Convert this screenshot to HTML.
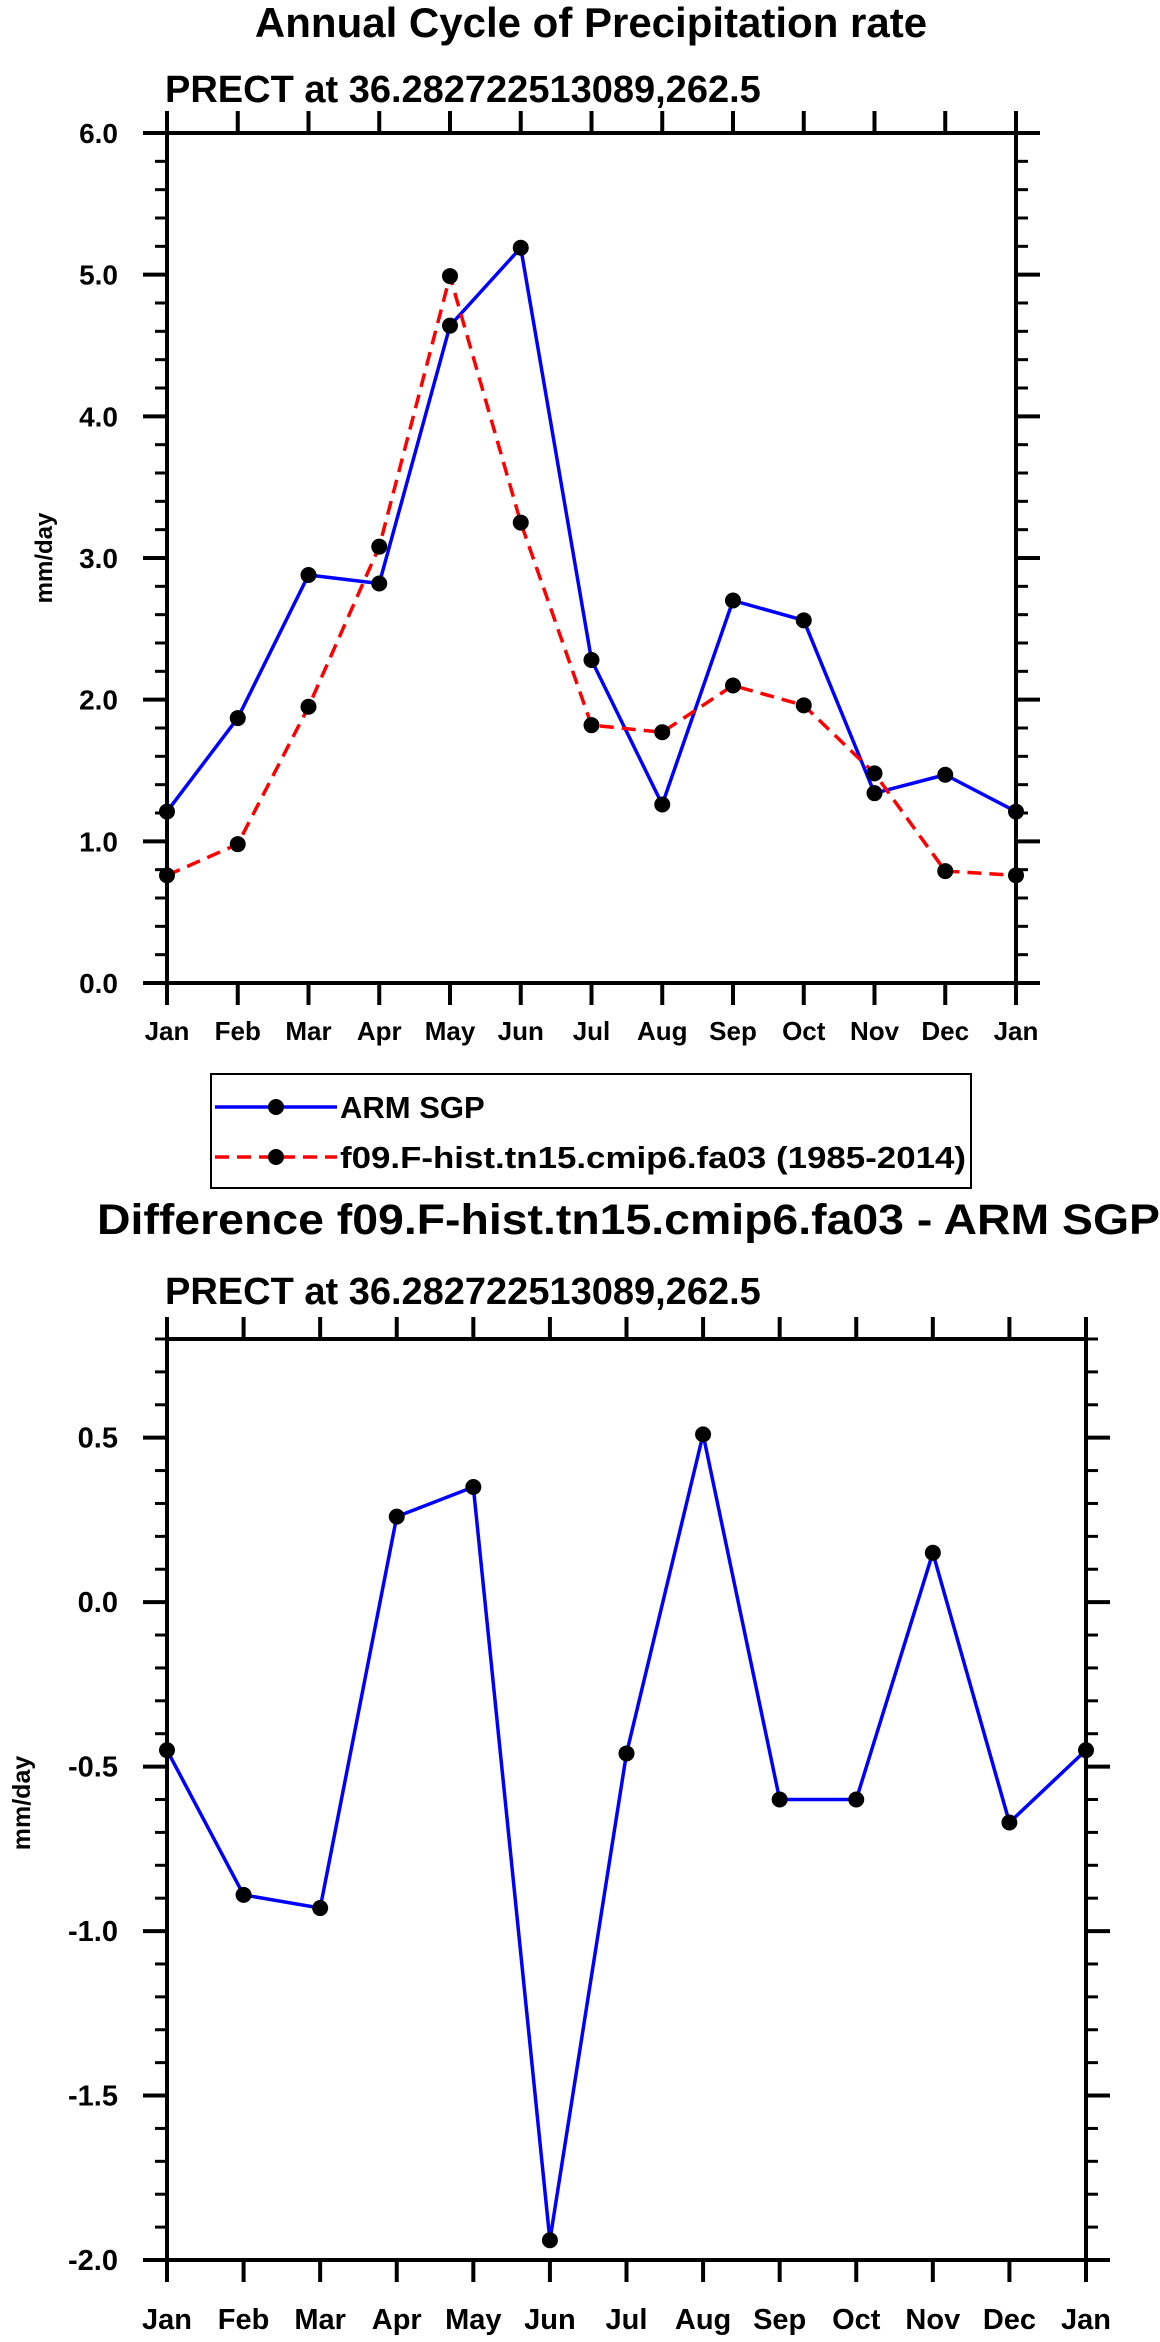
<!DOCTYPE html>
<html><head><meta charset="utf-8"><style>
html,body{margin:0;padding:0;background:#fff;}
svg{display:block;font-family:"Liberation Sans",Arial,sans-serif;font-weight:bold;}
</style></head><body>
<svg id="fig" width="1160" height="2342" viewBox="0 0 1160 2342" xmlns="http://www.w3.org/2000/svg">
<text x="591" y="37" font-size="42" text-anchor="middle">Annual Cycle of Precipitation rate</text>
<text x="165" y="102" font-size="38">PRECT at 36.282722513089,262.5</text>
<text transform="translate(52,558) rotate(-90)" font-size="24" text-anchor="middle">mm/day</text>
<g id="top"></g>
<g id="legend">
  <rect x="211" y="1074" width="760" height="114" fill="none" stroke="#000" stroke-width="2"/>
  <g>
    <line x1="215" y1="1107" x2="337" y2="1107" stroke="#0000ff" stroke-width="3.5"/>
    <circle cx="276" cy="1107" r="8" fill="#000"/>
    <text x="340" y="1118" font-size="31">ARM SGP</text>
  </g>
  <g>
    <line x1="215" y1="1157" x2="337" y2="1157" stroke="#ff0000" stroke-width="3.5" stroke-dasharray="14,8"/>
    <circle cx="276" cy="1157" r="8" fill="#000"/>
    <text x="340" y="1168" font-size="31" textLength="626" lengthAdjust="spacingAndGlyphs">f09.F-hist.tn15.cmip6.fa03 (1985-2014)</text>
  </g>
</g>
<text x="97" y="1234" font-size="43" textLength="1063" lengthAdjust="spacingAndGlyphs">Difference f09.F-hist.tn15.cmip6.fa03 - ARM SGP</text>
<text x="165" y="1304" font-size="38">PRECT at 36.282722513089,262.5</text>
<text transform="translate(30,1803) rotate(-90)" font-size="25" text-anchor="middle">mm/day</text>
<g id="bot"></g>
</svg>
<script>
const months = ["Jan","Feb","Mar","Apr","May","Jun","Jul","Aug","Sep","Oct","Nov","Dec","Jan"];
const armValues = [1.21,1.87,2.88,2.82,4.64,5.19,2.28,1.26,2.70,2.56,1.34,1.47,1.21];
const modelValues = [0.76,0.98,1.95,3.08,4.99,3.25,1.82,1.77,2.10,1.96,1.48,0.79,0.76];
const diffValues = [-0.45,-0.89,-0.93,0.26,0.35,-1.94,-0.46,0.51,-0.60,-0.60,0.15,-0.67,-0.45];
const topYTicks = ["0.0","1.0","2.0","3.0","4.0","5.0","6.0"];
const botYTicks = ["-2.0","-1.5","-1.0","-0.5","0.0","0.5"];

const NS="http://www.w3.org/2000/svg";
function mk(parent,tag,attrs){const e=document.createElementNS(NS,tag);for(const k in attrs)e.setAttribute(k,attrs[k]);parent.appendChild(e);return e;}

function drawChart(g,cfg){
  const xs=i=>cfg.x0+(cfg.x1-cfg.x0)*i/(months.length-1);
  const ys=v=>cfg.y1-(v-cfg.vmin)/(cfg.vmax-cfg.vmin)*(cfg.y1-cfg.y0);
  // minor y ticks
  for(let v=cfg.vmin;v<=cfg.vmax+1e-9;v+=cfg.minor){
    const y=ys(v);
    const l1=mk(g,"line",{x1:cfg.x0-12,y1:y,x2:cfg.x0,y2:y,stroke:"#000","stroke-width":3});
    
    
    const l2=mk(g,"line",{x1:cfg.x1,y1:y,x2:cfg.x1+12,y2:y,stroke:"#000","stroke-width":3});
    
    
  }
  cfg.ticks.forEach(t=>{
    const y=ys(parseFloat(t));
    const a=mk(g,"line",{x1:cfg.x0-24,y1:y,x2:cfg.x0,y2:y,stroke:"#000","stroke-width":4});
    
    
    const b=mk(g,"line",{x1:cfg.x1,y1:y,x2:cfg.x1+24,y2:y,stroke:"#000","stroke-width":4});
    
    
    const tx=mk(g,"text",{x:118,y:y+10,"font-size":cfg.tfs,"text-anchor":"end"});
    tx.textContent=t;
    
    
  });
  months.forEach((m,i)=>{
    const x=xs(i);
    const a=mk(g,"line",{x1:x,y1:cfg.y1,x2:x,y2:cfg.y1+22,stroke:"#000","stroke-width":4});
    
    
    const b=mk(g,"line",{x1:x,y1:cfg.y0-22,x2:x,y2:cfg.y0,stroke:"#000","stroke-width":4});
    
    
    const tx=mk(g,"text",{x:x,y:cfg.xly,"font-size":cfg.xfs,"text-anchor":"middle"});
    tx.textContent=m;
    
    
  });
  const fr=mk(g,"rect",{x:cfg.x0,y:cfg.y0,width:cfg.x1-cfg.x0,height:cfg.y1-cfg.y0,fill:"none",stroke:"#000","stroke-width":4});
  
  
  cfg.series.forEach(s=>{
    const pts=s.vals.map((v,i)=>xs(i)+","+ys(v)).join(" ");
    const pl=mk(g,"polyline",{points:pts,fill:"none",stroke:s.color,"stroke-width":3.5,"stroke-dasharray":s.dash||"none","stroke-linejoin":"round"});
    
    
  });
  cfg.series.forEach(s=>{
    s.vals.forEach((v,i)=>{
      const c=mk(g,"circle",{cx:xs(i),cy:ys(v),r:8,fill:"#000"});
      
      
    });
  });
}
drawChart(document.getElementById("top"),{x0:167,x1:1016,y0:133,y1:983,vmin:0,vmax:6,minor:0.2,ticks:topYTicks,tfs:28,xfs:26,xly:1040,
  series:[{name:"arm-sgp",vals:armValues,color:"#0000ff"},{name:"model",vals:modelValues,color:"#ff0000",dash:"14,8"}]});
drawChart(document.getElementById("bot"),{x0:167,x1:1086,y0:1339,y1:2260,vmin:-2,vmax:0.8,minor:0.1,ticks:botYTicks,tfs:29,xfs:29,xly:2329,
  series:[{name:"difference",vals:diffValues,color:"#0000ff"}]});
</script>
</body></html>
